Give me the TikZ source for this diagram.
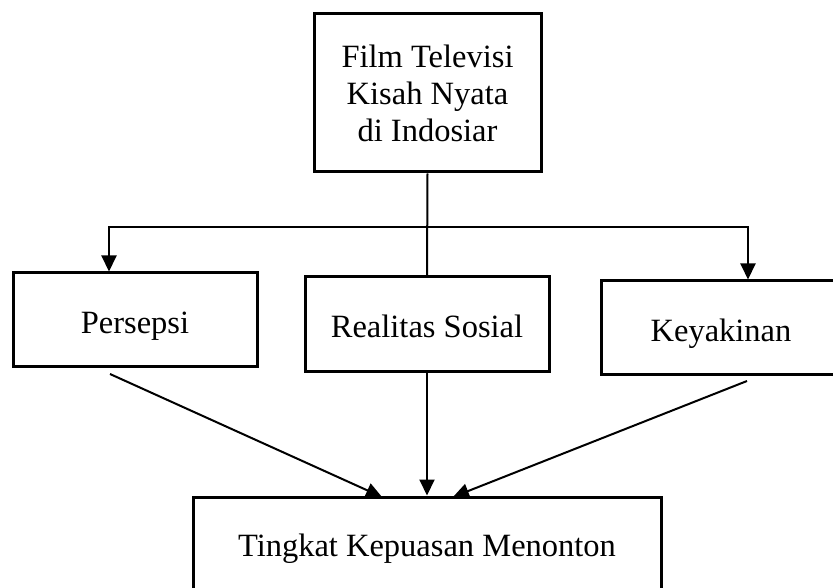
\documentclass[tikz,border=0pt]{standalone}
\usepackage{fontspec}
\setmainfont{Liberation Serif}
\usetikzlibrary{arrows.meta,calc}
\begin{document}
\begin{tikzpicture}[x=1pt,y=-1pt,
  box/.style={draw,line width=3pt,inner sep=0pt,align=center,font=\fontsize{32.5}{37}\selectfont},
  onel/.style={text height=27pt,text depth=0pt},
  conn/.style={line width=2pt},
  arr/.style={line width=2pt,-{Triangle[width=15pt,length=16pt]}}]
\useasboundingbox (0,0) rectangle (833,588);
\node[box,minimum width=227pt,minimum height=158pt] (top) at (427.5,93) {Film Televisi\\Kisah Nyata\\di Indosiar};
\node[box,onel,minimum width=244pt,minimum height=93pt] (pers) at (135,319.5) {Persepsi};
\node[box,onel,minimum width=244pt,minimum height=94pt] (real) at (427,324) {Realitas Sosial};
\node[box,onel,minimum width=240pt,minimum height=93pt] (key) at (721,327.5) {Keyakinan};
\node[box,onel,minimum width=468pt,minimum height=92pt] (bot) at (427,543) {Tingkat Kepuasan Menonton};
\coordinate (jl) at (109,227);
\coordinate (jr) at (748,227);
\draw[conn] (top.south) -- (real.north);
\draw[arr] (jr) -- (jl) -- (jl |- pers.north);
\draw[arr] (jl) -- (jr) -- (jr |- key.north);
\coordinate (pa) at (110,374);
\coordinate (pb) at (382,497);
\coordinate (ka) at (747,381);
\coordinate (kb) at (453,497);
\draw[arr] (pa) -- (pb);
\draw[arr] (real.south) -- (bot.north);
\draw[arr] (ka) -- (kb);
\end{tikzpicture}
\end{document}
